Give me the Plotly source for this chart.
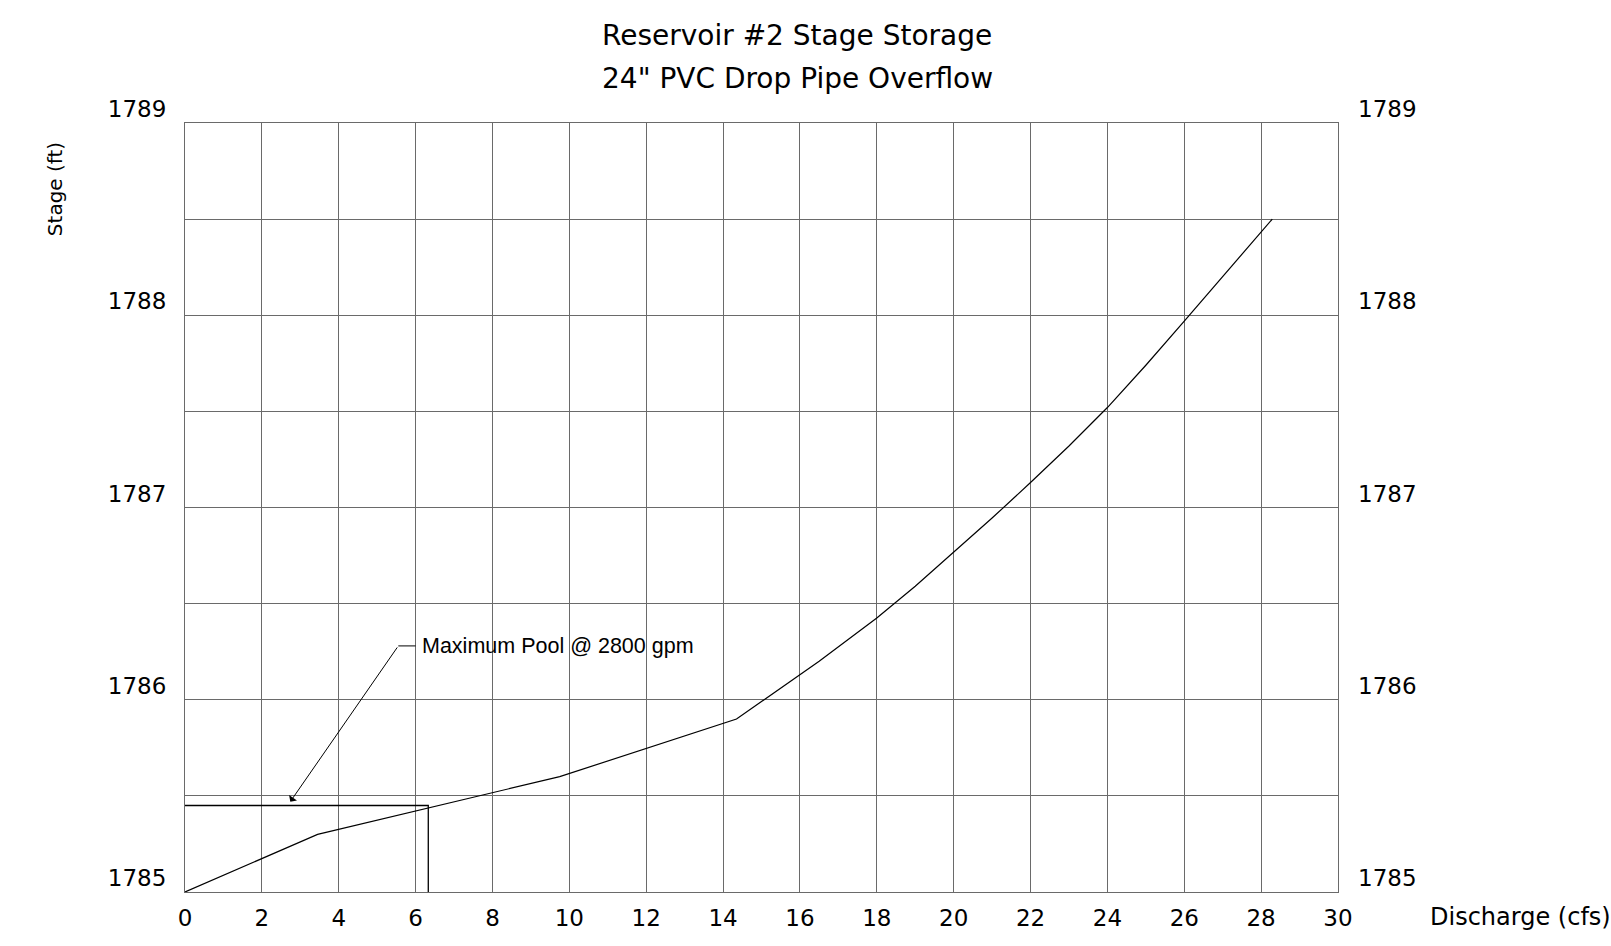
import plotly.graph_objects as go

# Stage-discharge rating for the 24" PVC drop pipe overflow
discharge_cfs = [0.0, 3.45, 9.75, 14.35, 16.5, 18.0, 19.0, 20.0, 21.0, 22.0,
                 23.0, 24.0, 25.0, 26.0, 27.0, 28.0, 28.29]
stage_ft = [1785.00, 1785.30, 1785.60, 1785.90, 1786.20, 1786.425, 1786.59,
            1786.765, 1786.945, 1787.13, 1787.32, 1787.52, 1787.74, 1787.97,
            1788.20, 1788.43, 1788.50]

# Maximum pool marker (2800 gpm)
pool_q = 6.33
pool_stage = 1785.45
pool_label = "Maximum Pool @ 2800 gpm"
arrow_tip = (2.74, 1785.47)
leader_knee = (5.55, 1786.28)
leader_end_q = 6.0

x_ticks = list(range(0, 31, 2))
y_ticks = [1785, 1786, 1787, 1788, 1789]
title_lines = ["Reservoir #2 Stage Storage", "24\" PVC Drop Pipe Overflow"]

FONT = "DejaVu Sans"
GRID = "#6a6a6a"

fig = go.Figure()

fig.add_trace(go.Scatter(
    x=discharge_cfs, y=stage_ft, mode="lines",
    line=dict(color="black", width=1.2), hoverinfo="skip", showlegend=False))

fig.add_trace(go.Scatter(
    x=[0, pool_q, pool_q], y=[pool_stage, pool_stage, y_ticks[0]], mode="lines",
    line=dict(color="black", width=1.3), hoverinfo="skip", showlegend=False))

fig.add_trace(go.Scatter(
    x=[leader_knee[0], leader_end_q], y=[leader_knee[1], leader_knee[1]],
    mode="lines", line=dict(color="black", width=1), hoverinfo="skip",
    showlegend=False))

# invisible trace so the right-hand stage axis is drawn
fig.add_trace(go.Scatter(
    x=[0], y=[y_ticks[0]], yaxis="y2", mode="markers",
    marker=dict(opacity=0), hoverinfo="skip", showlegend=False))

tick_font = dict(family=FONT, size=23, color="black")
axis_common = dict(showline=True, linecolor=GRID, linewidth=1, zeroline=False,
                   showgrid=True, gridcolor=GRID, gridwidth=1, ticks="",
                   tickfont=tick_font)

fig.update_layout(
    width=1611, height=946,
    margin=dict(l=185, r=273, t=123, b=54),
    paper_bgcolor="white", plot_bgcolor="white",
    showlegend=False,
    xaxis=dict(range=[0, 30], tickvals=x_ticks, mirror=True,
               ticklabelstandoff=5, **axis_common),
    yaxis=dict(range=[1785, 1789], tickvals=y_ticks, mirror=True,
               ticklabelshift=-14, ticklabelstandoff=13,
               minor=dict(dtick=0.5, tick0=1785, showgrid=True,
                          gridcolor=GRID, gridwidth=1),
               **axis_common),
    yaxis2=dict(range=[1785, 1789], tickvals=y_ticks, overlaying="y",
                side="right", showgrid=False, zeroline=False, showline=False,
                ticks="", ticklabelshift=-14, ticklabelstandoff=19,
                tickfont=tick_font),
)

annotations = [
    dict(x=arrow_tip[0], y=arrow_tip[1], ax=leader_knee[0], ay=leader_knee[1],
         xref="x", yref="y", axref="x", ayref="y", text="", showarrow=True,
         arrowhead=1, arrowsize=1.6, arrowwidth=1, arrowcolor="black"),
    dict(x=leader_end_q, y=leader_knee[1], xref="x", yref="y", text=pool_label,
         showarrow=False, xanchor="left", yanchor="middle", xshift=4,
         font=dict(family="Liberation Sans", size=21.5, color="black")),
    dict(x=0.5308, y=1.1135, xref="paper", yref="paper", text=title_lines[0],
         showarrow=False, xanchor="center", yanchor="middle",
         font=dict(family=FONT, size=28, color="black")),
    dict(x=0.5308, y=1.0576, xref="paper", yref="paper", text=title_lines[1],
         showarrow=False, xanchor="center", yanchor="middle",
         font=dict(family=FONT, size=28, color="black")),
    dict(x=-0.1132, y=0.9146, xref="paper", yref="paper", text="Stage (ft)",
         showarrow=False, textangle=-90, xanchor="center", yanchor="middle",
         font=dict(family=FONT, size=20, color="black")),
    dict(x=1.1587, y=-0.0328, xref="paper", yref="paper", text="Discharge (cfs)",
         showarrow=False, xanchor="center", yanchor="middle",
         font=dict(family=FONT, size=24, color="black")),
]
fig.update_layout(annotations=annotations)

fig.write_html("out.html")
